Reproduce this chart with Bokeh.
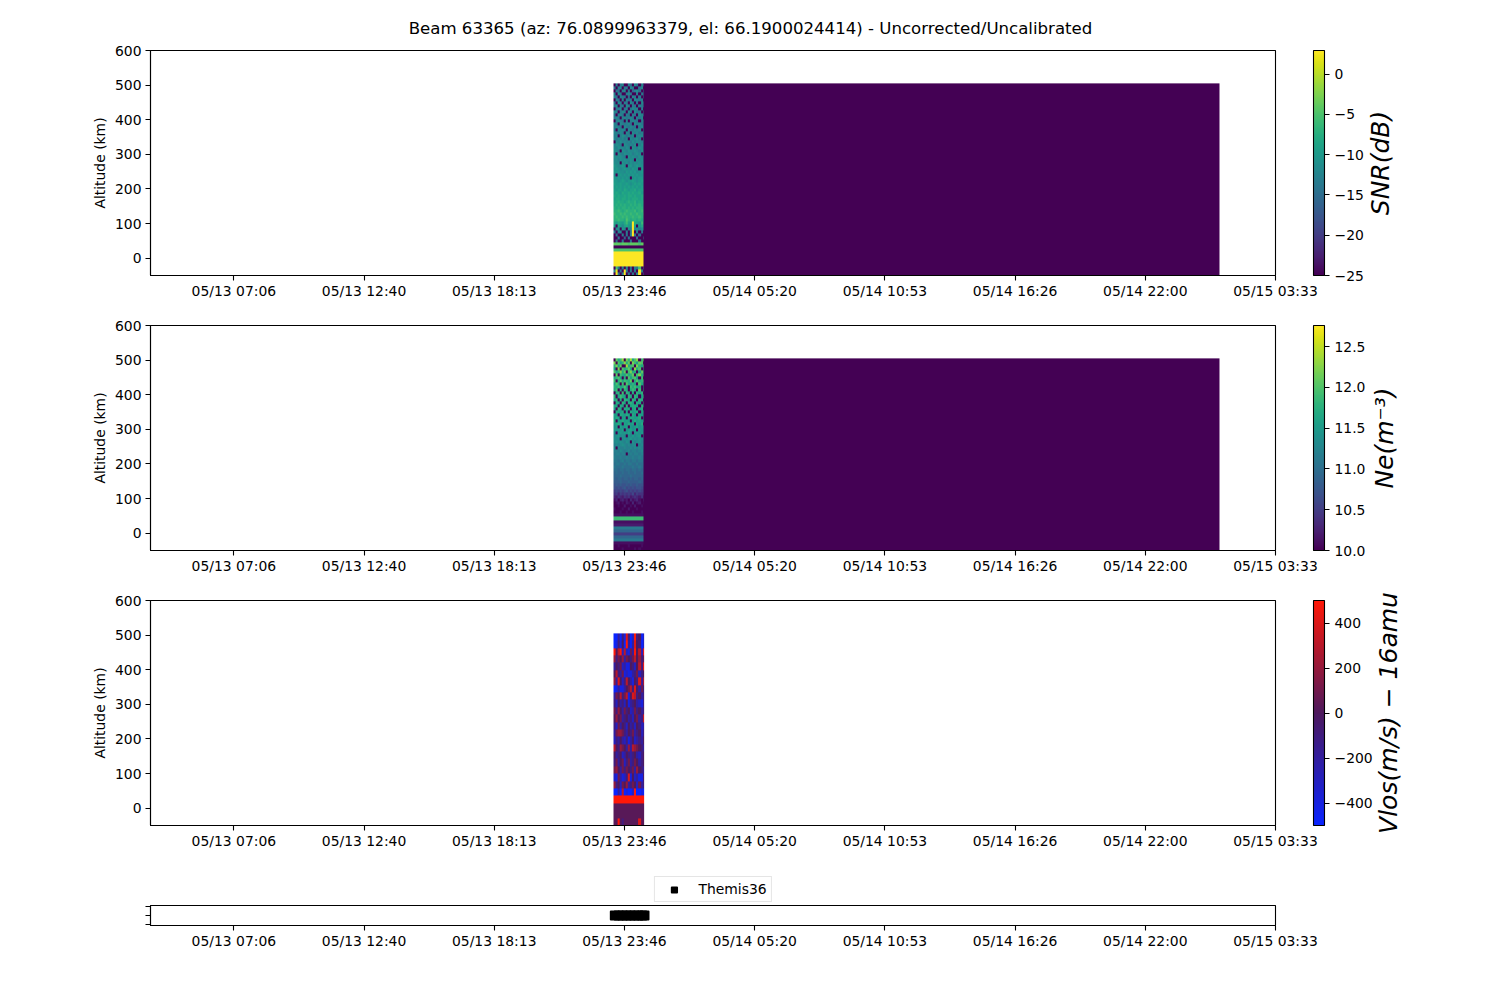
#!/usr/bin/python

import numpy as np
import pandas as pd
from bokeh.embed import file_html
from bokeh.layouts import column
from bokeh.models import ColorBar, DatetimeTickFormatter, FixedTicker, Label, Legend, LegendItem, LinearColorMapper, Range1d
from bokeh.palettes import Viridis256
from bokeh.plotting import figure
from bokeh.resources import INLINE

title_text = "Beam 63365 (az: 76.0899963379, el: 66.1900024414) - Uncorrected/Uncalibrated"

# time axis
t_left = "2017-05-13 03:33:20"
t_right = "2017-05-15 03:33:20"
tick_times = ["2017-05-13 07:06:40", "2017-05-13 12:40:00", "2017-05-13 18:13:20", "2017-05-13 23:46:40",
              "2017-05-14 05:20:00", "2017-05-14 10:53:20", "2017-05-14 16:26:40", "2017-05-14 22:00:00",
              "2017-05-15 03:33:20"]
burst_start = "2017-05-13 23:18:38"
burst_end = "2017-05-14 00:37:00"
quiet_start = "2017-05-14 00:35:26"
quiet_end = "2017-05-15 01:09:56"
alt_bottom = -50
alt_top = 505
alt_ticks = [0, 100, 200, 300, 400, 500, 600]

# SNR (dB), rows listed from top altitude downwards
snr_rows = [
    [-25,-13,-25,-14,-12,-25,-25,-13,-15,-25,-12,-14,-25,-13,-14],
    [-14,-25,-13,-12,-25,-14,-13,-25,-12,-13,-25,-25,-14,-12,-25],
    [-25,-14,-15,-25,-13,-12,-25,-14,-25,-16,-13,-12,-15,-25,-13],
    [-13,-25,-12,-14,-25,-25,-13,-12,-14,-25,-25,-13,-25,-14,-12],
    [-12,-15,-25,-13,-13,-14,-25,-15,-25,-12,-14,-25,-13,-25,-14],
    [-25,-13,-14,-25,-12,-25,-13,-14,-13,-25,-12,-13,-14,-13,-25],
    [-14,-25,-12,-13,-25,-13,-14,-25,-12,-14,-25,-14,-25,-12,-13],
    [-13,-12,-25,-14,-13,-25,-12,-13,-25,-13,-14,-25,-13,-14,-12],
    [-25,-14,-13,-12,-25,-14,-13,-25,-14,-12,-13,-12,-25,-13,-25],
    [-12,-13,-25,-14,-12,-13,-25,-12,-13,-25,-12,-14,-13,-25,-14],
    [-14,-25,-13,-12,-14,-25,-13,-14,-25,-13,-14,-25,-12,-13,-12],
    [-13,-12,-14,-25,-13,-12,-14,-13,-12,-14,-25,-13,-14,-12,-25],
    [-25,-13,-12,-13,-14,-25,-12,-25,-13,-12,-13,-14,-25,-13,-12],
    [-12,-14,-25,-12,-13,-14,-13,-12,-14,-25,-12,-13,-12,-14,-13],
    [-13,-12,-13,-14,-25,-12,-13,-14,-12,-13,-14,-25,-13,-12,-14],
    [-14,-25,-12,-13,-12,-13,-25,-12,-13,-14,-12,-13,-12,-25,-13],
    [-12,-13,-14,-12,-13,-25,-12,-13,-25,-12,-13,-12,-14,-13,-12],
    [-13,-12,-25,-13,-11,-12,-14,-12,-13,-12,-25,-13,-12,-12,-14],
    [-12,-14,-12,-13,-12,-14,-12,-25,-12,-13,-12,-11,-13,-25,-12],
    [-25,-12,-13,-11,-13,-12,-13,-12,-14,-11,-13,-12,-12,-13,-11],
    [-13,-11,-12,-13,-25,-11,-12,-13,-12,-13,-11,-25,-13,-11,-12],
    [-12,-13,-11,-12,-12,-13,-11,-12,-25,-11,-12,-13,-11,-12,-13],
    [-11,-12,-13,-25,-11,-12,-13,-11,-12,-12,-11,-12,-13,-11,-12],
    [-12,-25,-11,-12,-13,-11,-12,-12,-11,-13,-12,-11,-12,-25,-11],
    [-11,-12,-12,-11,-12,-13,-25,-11,-12,-11,-12,-13,-11,-12,-11],
    [-12,-11,-13,-11,-12,-11,-12,-12,-11,-12,-25,-11,-12,-11,-13],
    [-11,-12,-11,-25,-11,-12,-11,-13,-11,-12,-11,-12,-11,-12,-11],
    [-10,-11,-12,-11,-10,-11,-25,-11,-10,-12,-11,-10,-11,-11,-12],
    [-11,-10,-11,-12,-11,-10,-11,-11,-12,-10,-11,-11,-25,-10,-11],
    [-10,-11,-10,-11,-11,-12,-10,-11,-10,-11,-10,-12,-11,-10,-11],
    [-11,-25,-11,-10,-11,-10,-11,-10,-11,-10,-11,-10,-11,-11,-10],
    [-10,-11,-10,-11,-10,-11,-10,-11,-25,-11,-10,-11,-10,-10,-11],
    [-10,-10,-11,-10,-9,-10,-11,-10,-10,-9,-10,-11,-10,-9,-10],
    [-9,-10,-10,-9,-10,-10,-9,-10,-11,-10,-9,-10,-9,-10,-10],
    [-10,-9,-10,-9,-10,-9,-10,-9,-10,-9,-10,-9,-10,-9,-10],
    [-9,-10,-9,-9,-10,-8,-9,-10,-9,-9,-8,-10,-9,-9,-8],
    [-9,-8,-9,-10,-8,-9,-9,-8,-9,-8,-9,-9,-8,-10,-9],
    [-8,-9,-8,-9,-9,-8,-9,-8,-8,-9,-8,-9,-9,-8,-8],
    [-9,-8,-8,-9,-8,-8,-9,-8,-9,-8,-8,-8,-9,-8,-9],
    [-8,-8,-7,-8,-8,-9,-8,-7,-8,-8,-7,-9,-8,-8,-7],
    [-8,-7,-8,-7,-8,-7,-8,-8,-7,-8,-7,-8,-7,-8,-8],
    [-7,-8,-7,-8,-7,-7,-8,-7,-8,-7,-8,-7,-7,-7,-8],
    [-7,-7,-6,-7,-8,-7,-6,-7,-7,-7,-6,-8,-7,-6,-7],
    [-6,-7,-7,-6,-7,-6,-7,-7,-6,-7,-7,-6,-7,-7,-6],
    [-7,-6,-7,-7,-6,-7,-6,-7,-7,-6,-7,-7,-6,-7,-7],
    [-7,-7,-6,-7,-7,-8,-5,-7,-8,-7,-7,-8,-7,-8,-7],
    [-8,-10,-8,-9,-10,-8,-6,-9,-10,3,-8,-9,-10,-6,-9],
    [-10,-25,-9,-10,-12,-9,-8,-10,-11,3,-9,-25,-10,-8,-10],
    [-25,-12,-11,-25,-10,-12,-25,-11,-13,3,-12,-11,-13,-11,-12],
    [-14,-25,-13,-12,-25,-25,-13,-25,-14,3,-25,-13,-25,-14,-25],
    [-25,-15,-25,-25,-13,-25,-14,-25,-13,3,-14,-25,-15,-25,-25],
    [-25,-25,-14,-25,-25,-16,-25,-14,-25,-25,-25,-15,-25,-25,-14],
    [-25,-16,-25,-25,-14,-25,-25,-25,-15,-25,-25,-25,-14,-25,-25],
    [-4,-4,-4,-5,-4,-4,-4,-5,-4,-4,-4,-4,-5,-4,-4],
    [-25,-25,-25,-25,-25,-25,-25,-25,-25,-25,-25,-25,-25,-25,-25],
    [-5,-5,-5,-5,-5,-5,-5,-5,-5,-5,-5,-5,-5,-5,-5],
    [3,3,3,3,3,3,3,3,3,3,3,3,3,3,3],
    [3,3,3,3,3,3,3,3,3,3,3,3,3,3,3],
    [3,3,3,3,3,3,3,3,3,3,3,3,3,3,3],
    [3,3,3,3,3,3,3,3,3,3,3,3,3,3,3],
    [3,3,3,3,3,3,3,3,3,3,3,3,3,3,3],
    [-25,-5,-14,-25,-13,-25,-12,-25,-15,-25,-13,-14,-5,-25,-14],
    [-13,2,-25,-15,-25,3,-14,-25,-13,-25,-14,-25,3,-13,-25],
    [-25,3,-14,-25,-13,3,-25,-15,-25,-14,-25,-13,3,-25,-14],
]
snr_quiet = -25
snr_ticks = [-25, -20, -15, -10, -5, 0]
snr_tick_labels = ["\u221225", "\u221220", "\u221215", "\u221210", "\u22125", "0"]
snr_low = -25
snr_high = 2.95

# electron density, log10 m^-3
ne_rows = [
    [10.0,12.1,11.7,11.9,12.3,10.0,12.2,11.8,12.4,11.6,12.0,12.3,10.0,11.9,12.2],
    [12.2,10.0,12.0,11.6,11.8,12.3,11.7,12.1,10.0,12.2,11.9,11.6,12.1,12.0,10.0],
    [11.8,12.2,11.6,12.1,10.0,10.0,12.4,11.7,11.9,12.0,10.0,12.2,11.8,11.6,12.1],
    [11.6,10.0,12.2,10.0,12.0,11.7,11.8,12.1,11.6,10.0,12.3,11.7,12.0,10.0,11.7],
    [12.0,11.6,11.8,12.2,11.7,12.1,10.0,11.9,12.2,11.7,11.7,10.0,11.6,12.1,11.8],
    [10.0,12.1,10.0,11.9,11.7,11.6,12.0,11.7,11.8,12.1,10.0,11.9,12.2,11.7,11.9],
    [11.7,11.8,12.0,11.6,10.0,11.7,10.0,12.0,11.6,11.9,12.0,11.6,10.0,11.9,10.0],
    [11.9,10.0,11.7,12.0,11.6,11.9,11.8,11.7,12.1,10.0,11.7,12.0,11.7,11.8,12.0],
    [11.6,12.0,11.7,10.0,11.9,10.0,12.0,11.7,11.6,11.8,11.6,10.0,12.0,11.6,11.7],
    [11.8,11.7,11.9,11.6,11.7,12.0,11.6,10.0,11.9,11.7,11.9,11.7,11.7,10.0,11.6],
    [11.7,11.9,10.0,11.7,10.0,11.8,11.7,10.0,11.7,11.9,11.7,10.0,11.9,10.0,11.8],
    [10.0,11.7,11.8,10.0,11.9,10.0,11.8,11.7,10.0,11.7,10.0,11.8,11.6,11.8,10.0],
    [11.8,10.0,11.6,11.9,11.7,11.6,10.0,11.8,11.7,10.0,11.8,11.7,10.0,11.6,11.9],
    [11.6,11.8,10.0,11.7,10.0,11.8,11.7,11.6,10.0,11.8,11.6,10.0,11.8,11.7,10.0],
    [10.0,11.7,11.6,10.0,11.8,11.6,10.0,11.7,11.8,11.6,10.0,11.7,11.6,10.0,11.7],
    [11.7,11.6,10.0,11.7,11.6,10.0,11.8,10.0,11.6,11.7,11.7,11.6,10.0,11.8,11.6],
    [11.6,10.0,11.8,11.6,10.0,11.7,11.6,11.7,10.0,11.6,11.7,10.0,11.6,11.7,10.0],
    [10.0,11.7,11.6,11.5,11.7,10.0,11.6,10.0,11.7,11.5,11.6,11.7,10.0,11.6,11.7],
    [11.6,11.5,10.0,11.7,11.6,11.5,11.7,11.6,10.0,11.7,11.5,10.0,11.6,11.5,11.6],
    [11.5,11.7,11.6,10.0,11.5,11.6,10.0,11.5,11.7,11.6,11.5,11.6,11.7,10.0,11.5],
    [11.7,10.0,11.5,11.6,11.7,11.5,11.6,11.5,10.0,11.5,11.7,11.5,11.6,11.5,11.7],
    [11.5,11.6,11.7,11.5,10.0,11.6,11.5,11.7,11.5,11.6,10.0,11.6,11.5,11.7,10.0],
    [11.4,11.5,10.0,11.6,11.4,11.5,11.6,10.0,11.5,11.4,11.5,11.6,11.4,11.5,11.6],
    [11.5,11.4,11.5,11.4,11.6,10.0,11.4,11.5,11.6,11.4,11.5,10.0,11.5,11.4,11.5],
    [11.4,10.0,11.4,11.5,11.4,11.5,11.4,11.6,11.4,10.0,11.4,11.5,11.4,11.5,11.4],
    [11.3,11.4,11.5,11.3,11.4,11.3,10.0,11.4,11.3,11.5,11.3,11.4,11.5,10.0,11.3],
    [11.4,11.3,11.4,10.0,11.3,11.4,11.3,11.4,11.5,11.3,11.4,11.3,11.4,11.3,11.4],
    [11.3,11.4,11.3,11.4,11.3,11.2,11.4,11.3,10.0,11.4,11.2,11.3,11.4,11.2,11.3],
    [11.2,11.3,11.2,11.3,11.4,11.3,11.2,11.3,11.2,11.3,11.3,10.0,11.2,11.3,11.2],
    [11.3,10.0,11.3,11.2,11.2,11.3,11.2,11.2,11.3,11.2,11.3,11.2,11.3,11.2,11.3],
    [11.2,11.2,11.1,11.3,11.2,11.1,11.2,11.3,11.1,11.2,11.2,11.1,11.2,11.3,11.1],
    [11.1,11.2,11.2,11.1,11.2,11.2,10.0,11.1,11.2,11.1,11.2,11.2,11.1,11.2,11.2],
    [11.2,11.1,11.1,11.2,11.1,11.1,11.2,11.1,11.1,11.2,11.1,11.1,11.2,11.1,11.1],
    [11.1,11.1,11.0,11.1,11.2,11.0,11.1,11.1,11.0,11.1,11.1,11.0,11.1,11.1,11.0],
    [11.0,11.1,11.1,11.0,11.0,11.1,11.0,11.1,11.1,11.0,11.0,11.1,11.0,11.0,11.1],
    [11.1,11.0,11.0,11.0,11.1,11.0,11.0,11.0,11.0,11.1,11.0,11.0,11.1,11.0,11.0],
    [11.0,11.0,10.9,11.0,11.0,10.9,11.0,11.0,10.9,11.0,11.0,10.9,11.0,10.9,11.0],
    [10.9,11.0,10.9,10.9,11.0,10.9,10.9,11.0,10.9,10.9,11.0,10.9,10.9,11.0,10.9],
    [10.9,10.9,10.9,11.0,10.9,10.9,10.9,10.9,11.0,10.9,10.9,10.9,10.9,10.9,10.9],
    [10.9,10.8,10.9,10.9,10.8,10.9,10.9,10.8,10.9,10.8,10.9,10.9,10.8,10.9,10.8],
    [10.8,10.8,10.8,10.9,10.8,10.8,10.8,10.9,10.8,10.8,10.8,10.8,10.9,10.8,10.8],
    [10.7,10.8,10.7,10.8,10.7,10.7,10.8,10.7,10.8,10.7,10.7,10.8,10.7,10.7,10.8],
    [10.7,10.6,10.7,10.6,10.7,10.8,10.6,10.7,10.6,10.7,10.6,10.7,10.7,10.6,10.6],
    [10.5,10.6,10.5,10.6,10.5,10.6,10.7,10.5,10.6,10.5,10.6,10.5,10.6,10.5,10.6],
    [10.4,10.5,10.3,10.5,10.4,10.5,10.4,10.5,10.4,10.6,10.3,10.5,10.4,10.4,10.5],
    [10.3,10.2,10.4,10.3,10.2,10.4,10.3,10.4,10.2,10.3,10.4,10.3,10.2,10.4,10.2],
    [10.1,10.3,10.0,10.2,10.3,10.1,10.2,10.0,10.3,10.1,10.2,10.3,10.1,10.0,10.3],
    [10.0,10.1,10.2,10.0,10.1,10.0,10.2,10.1,10.0,10.3,10.0,10.1,10.2,10.0,10.1],
    [10.0,10.0,10.1,10.0,10.0,10.2,10.0,10.0,10.1,10.0,10.2,10.0,10.0,10.1,10.0],
    [10.1,10.0,10.0,10.0,10.1,10.0,10.0,10.2,10.0,10.0,10.0,10.1,10.0,10.0,10.0],
    [10.0,10.0,10.0,10.1,10.0,10.0,10.1,10.0,10.0,10.1,10.0,10.0,10.0,10.1,10.0],
    [10.1,10.1,10.1,10.1,10.1,10.1,10.1,10.1,10.1,10.1,10.1,10.1,10.1,10.1,10.1],
    [11.9,11.9,11.9,11.9,11.9,11.9,11.9,11.9,11.9,11.9,11.9,11.9,11.9,11.9,11.9],
    [10.1,10.1,10.1,10.1,10.1,10.1,10.1,10.1,10.1,10.1,10.1,10.1,10.1,10.1,10.1],
    [10.2,10.2,10.2,10.2,10.2,10.2,10.2,10.2,10.2,10.2,10.2,10.2,10.2,10.2,10.2],
    [11.1,11.1,11.1,11.1,11.1,11.1,11.1,11.1,11.1,11.1,11.1,11.1,11.1,11.1,11.1],
    [10.9,10.9,10.9,10.9,10.9,10.9,10.9,10.9,10.9,10.9,10.9,10.9,10.9,10.9,10.9],
    [10.5,10.5,10.5,10.5,10.5,10.5,10.5,10.5,10.5,10.5,10.5,10.5,10.5,10.5,10.5],
    [10.9,10.9,10.9,10.9,10.9,10.9,10.9,10.9,10.9,10.9,10.9,10.9,10.9,10.9,10.9],
    [11.1,11.1,11.1,11.1,11.1,11.1,11.1,11.1,11.1,11.1,11.1,11.1,11.1,11.1,11.1],
    [10.1,10.1,10.1,10.1,10.1,10.1,10.1,10.1,10.1,10.1,10.1,10.1,10.1,10.1,10.1],
    [10.0,10.0,10.1,10.0,10.0,10.0,10.0,10.1,10.0,10.0,10.0,10.0,10.0,10.1,10.0],
    [10.0,10.0,10.0,10.0,10.1,10.0,10.0,10.0,10.0,10.0,10.1,10.0,10.1,10.0,10.0],
]
ne_quiet = 10.0
ne_ticks = [10, 10.5, 11, 11.5, 12, 12.5]
ne_tick_labels = ["10.0", "10.5", "11.0", "11.5", "12.0", "12.5"]
ne_low = 10
ne_high = 12.76

# line of sight velocity (m/s)
vlos_rows = [
    [-500,-500,-200,-500,-100,-400,400,-100,-500,-300,500,-100,0,-500,-300],
    [-500,-400,-100,-400,0,-500,500,-200,-500,-200,400,0,-100,-500,-300],
    [500,0,300,500,-300,300,-300,-400,100,-200,500,0,300,-300,500],
    [200,-100,100,0,200,-200,100,0,-100,100,300,0,200,-100,100],
    [-200,0,-100,100,-300,-200,-400,-400,0,-100,-300,0,300,-100,500],
    [0,300,-100,-200,100,-400,-300,-400,-400,-200,-100,100,-300,-100,0],
    [200,-200,400,0,-300,-100,300,0,-200,-400,0,-100,400,-200,300],
    [-500,-400,-200,-400,-400,-200,0,100,300,-100,400,0,-200,100,-100],
    [-200,100,0,300,-100,100,300,-400,0,400,300,-100,0,-200,-100],
    [-100,-300,0,-200,-100,-300,0,-400,-200,-100,0,-200,-300,-400,-100],
    [100,-100,200,0,-200,100,-100,0,-300,-200,100,-100,0,-200,-100],
    [0,200,0,100,-200,-100,0,-200,-100,-300,0,100,-200,-100,400],
    [-100,-300,100,-200,0,-100,-300,0,-200,-100,-300,0,-100,-300,-200],
    [-200,100,200,200,100,-100,-200,0,-100,100,-200,-100,0,-300,-100],
    [-300,-100,-200,0,-200,-300,-100,-400,-200,0,-300,-200,-100,-200,0],
    [300,0,-100,200,100,0,-200,200,-200,300,200,100,0,-100,-200],
    [0,-200,-100,0,-300,-200,0,-100,-200,-100,0,-200,-300,-100,0],
    [-100,100,-200,0,100,-300,-100,100,-200,-100,100,0,-200,-100,0],
    [100,200,0,-200,100,-100,100,0,-100,100,-200,200,0,-100,-200],
    [-300,-400,100,-200,-400,-300,-100,400,-400,0,-300,-200,-400,-400,0],
    [200,-100,0,-300,100,0,200,-200,-100,100,0,-300,100,-200,-100],
    [-500,-500,-200,-500,300,-500,-400,-500,-500,-300,500,-500,-500,-400,-500],
    [500,500,500,500,500,500,500,500,500,500,500,500,500,500,500],
    [30,30,30,30,30,30,30,30,30,30,30,30,30,30,30],
    [30,30,30,30,30,30,30,30,30,30,30,30,30,30,30],
    [30,30,500,30,-100,30,30,30,30,30,30,30,400,30,30],
]
vlos_ticks = [-400, -200, 0, 200, 400]
vlos_tick_labels = ["\u2212400", "\u2212200", "0", "200", "400"]
vlos_low = -500
vlos_high = 500

# Themis36 camera availability
themis_times = ["2017-05-13 23:22", "2017-05-13 23:32", "2017-05-13 23:42", "2017-05-13 23:52",
                "2017-05-14 00:02", "2017-05-14 00:12", "2017-05-14 00:22", "2017-05-14 00:32",
                "2017-05-14 00:38"]
themis_level = [1, 1, 1, 1, 1, 1, 1, 1, 1]


def ms(stamp):
    return pd.Timestamp(stamp).timestamp() * 1000


def blue_red():
    stops = np.array([[10, 36, 255], [78, 26, 94], [255, 24, 8]], dtype=float)
    pos = np.linspace(0, 2, 256)
    r = np.interp(pos, [0, 1, 2], stops[:, 0])
    g = np.interp(pos, [0, 1, 2], stops[:, 1])
    b = np.interp(pos, [0, 1, 2], stops[:, 2])
    return ["#%02x%02x%02x" % (int(a), int(c), int(d)) for a, c, d in zip(r, g, b)]


def base_figure(frame_height, top, y_range):
    p = figure(frame_width=1125, frame_height=frame_height, output_backend="svg", toolbar_location=None,
               x_axis_type="datetime", x_range=Range1d(ms(t_left), ms(t_right)), y_range=y_range,
               min_border_left=150, min_border_right=215, min_border_top=top, min_border_bottom=28)
    p.grid.visible = False
    p.outline_line_color = "black"
    p.outline_line_width = 1.1
    fmt = "%m/%d %H:%M"
    p.xaxis.ticker = FixedTicker(ticks=[ms(t) for t in tick_times])
    p.xaxis.formatter = DatetimeTickFormatter(milliseconds=fmt, seconds=fmt, minsec=fmt, minutes=fmt, hourmin=fmt,
                                              hours=fmt, days=fmt, months=fmt, years=fmt)
    for ax in [p.xaxis[0], p.yaxis[0]]:
        ax.axis_line_color = "black"
        ax.axis_line_width = 1.1
        ax.major_tick_line_color = "black"
        ax.major_tick_line_width = 1.1
        ax.major_tick_in = 0
        ax.major_tick_out = 5
        ax.minor_tick_line_color = None
        ax.major_label_standoff = 2
        ax.major_label_text_font = "DejaVu Sans"
        ax.major_label_text_font_size = "13.9px"
        ax.major_label_text_color = "black"
    p.yaxis.major_label_standoff = 4
    return p


def blank_strip(height, y_range):
    # empty figure for things that would get clipped to a data frame
    s = figure(width=1490, height=height, output_backend="svg", toolbar_location=None,
               x_range=Range1d(ms(t_left), ms(t_right)), y_range=y_range, x_axis_location=None,
               y_axis_location=None, min_border=0, outline_line_color=None)
    s.grid.visible = False
    return s


def panel(rows, quiet, low, high, palette, ticks, tick_labels, label, label_x, top):
    p = base_figure(225, top, Range1d(-50, 600))
    p.yaxis.ticker = FixedTicker(ticks=alt_ticks)
    p.yaxis.axis_label = "Altitude (km)"
    p.yaxis.axis_label_text_font = "DejaVu Sans"
    p.yaxis.axis_label_text_font_size = "13.9px"
    p.yaxis.axis_label_text_font_style = "normal"
    p.yaxis.axis_label_text_color = "black"
    p.yaxis.axis_label_standoff = 4

    mapper = LinearColorMapper(palette=palette, low=low, high=high)
    grid = np.array(rows[::-1], dtype=float)
    p.image(image=[grid], x=ms(burst_start), y=alt_bottom, dw=ms(burst_end) - ms(burst_start),
            dh=alt_top - alt_bottom, color_mapper=mapper)
    if quiet is not None:
        p.image(image=[np.array([[quiet]], dtype=float)], x=ms(quiet_start), y=alt_bottom,
                dw=ms(quiet_end) - ms(quiet_start), dh=alt_top - alt_bottom, color_mapper=mapper)

    bar = ColorBar(color_mapper=mapper, location=(1163, 0), width=11, height=225, padding=0, margin=0,
                   ticker=FixedTicker(ticks=ticks), major_label_overrides=dict(zip(ticks, tick_labels)),
                   major_tick_in=0, major_tick_out=5, major_tick_line_color="black", major_tick_line_width=1.1,
                   minor_tick_line_color=None, bar_line_color="black", bar_line_width=1.1, border_line_color=None,
                   background_fill_color=None, label_standoff=5, major_label_text_font="DejaVu Sans",
                   major_label_text_font_size="13.9px", major_label_text_color="black")
    p.add_layout(bar, "center")

    # side panel, because a label in the center panel gets clipped to the frame
    p.add_layout(Label(x=label_x, y=112.5, x_units="screen", y_units="screen", text=label, angle=np.pi / 2,
                       text_align="center", text_baseline="middle", text_font="DejaVu Sans",
                       text_font_style="italic", text_font_size="25px", text_color="black"), "right")
    return p


header = blank_strip(40, Range1d(0, 1))
header.add_layout(Label(x=600, y=12, x_units="screen", y_units="screen", text=title_text, text_align="center",
                        text_baseline="middle", text_font="DejaVu Sans", text_font_size="16.6px",
                        text_color="black"))

p1 = panel(snr_rows, snr_quiet, snr_low, snr_high, Viridis256, snr_ticks, snr_tick_labels, "SNR(dB)", 105, 10)
p2 = panel(ne_rows, ne_quiet, ne_low, ne_high, Viridis256, ne_ticks, ne_tick_labels, "Ne(m\u207b\u00b3)", 109, 22)
p3 = panel(vlos_rows, None, vlos_low, vlos_high, blue_red(), vlos_ticks, vlos_tick_labels,
           "Vlos(m/s) \u2212 16amu", 113, 22)

p4 = base_figure(20, 2, Range1d(0, 2))
p4.yaxis.ticker = FixedTicker(ticks=[0.1, 1, 1.9])
p4.yaxis.major_label_overrides = {0.1: "", 1: "", 1.9: ""}
p4.scatter([ms(t) for t in themis_times], themis_level, marker="square", size=8, color="black", line_width=2,
           line_join="round")

# the legend sits above the thin axes, so it gets its own strip; the points fall outside this strip's y range
legend_strip = blank_strip(50, Range1d(10, 11))
legend_dots = legend_strip.scatter([ms(t) for t in themis_times], themis_level, marker="square", size=11, color="black",
                                   line_width=2, line_join="round")
leg = Legend(items=[LegendItem(label="Themis36", renderers=[legend_dots])], location="bottom_center", margin=1,
             padding=4, spacing=0, glyph_width=30, glyph_height=13, label_standoff=10, label_height=13,
             label_text_font="DejaVu Sans", label_text_font_size="13.9px", label_text_color="black",
             border_line_color="#cccccc", border_line_width=1.1)
legend_strip.add_layout(leg, "center")

page = column(header, p1, p2, p3, legend_strip, p4, spacing=0)
open("out.html", "w").write(file_html(page, INLINE))
